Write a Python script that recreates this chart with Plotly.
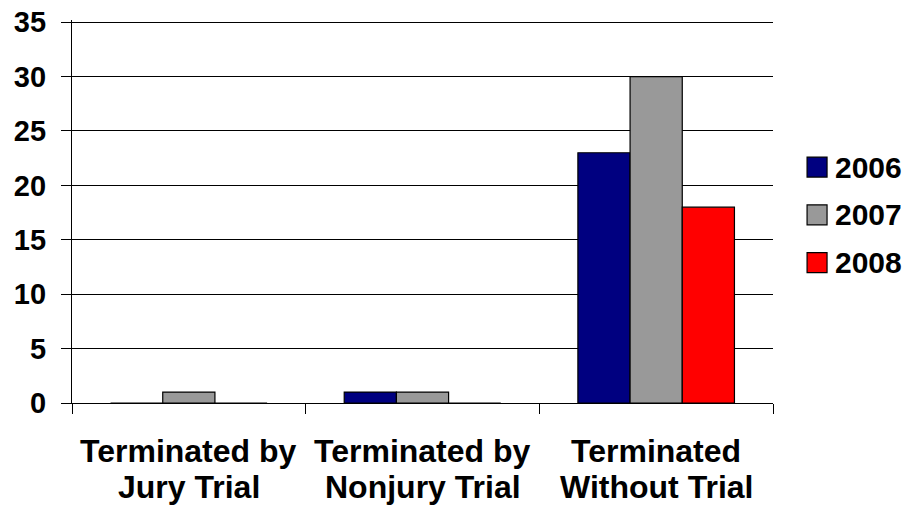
import plotly.graph_objects as go

# Chart data
categories = ["Jury", "Nonjury", "Without"]
category_lines = [
    ["Terminated by", "Jury Trial"],
    ["Terminated by", "Nonjury Trial"],
    ["Terminated", "Without Trial"],
]
years = ["2006", "2007", "2008"]
values_2006 = [0, 1, 23]
values_2007 = [1, 1, 30]
values_2008 = [0, 0, 18]
y_ticks = [0, 5, 10, 15, 20, 25, 30, 35]

series = [
    ("2006", values_2006, "#000080"),
    ("2007", values_2007, "#999999"),
    ("2008", values_2008, "#ff0000"),
]

FONT = "Liberation Sans, Arial, sans-serif"
BOLD = dict(family=FONT, color="black", weight="bold")

fig = go.Figure()
for name, vals, color in series:
    fig.add_trace(go.Bar(
        x=categories,
        y=vals,
        name=name,
        marker=dict(color=color, line=dict(color="black", width=1.2)),
        showlegend=False,
    ))

shapes = []
annotations = []

# two-line category labels, tighter line spacing than plotly's tick labels
for cat, lines in zip(categories, category_lines):
    for j, line in enumerate(lines):
        annotations.append(dict(
            x=cat, xref="x", y=0, yref="paper",
            xanchor="center", yanchor="middle", yshift=-48 - 36 * j,
            showarrow=False, text=line, font=dict(BOLD, size=32),
        ))

# legend drawn by hand so the swatches can be big squares like the original
for i, (name, vals, color) in enumerate(series):
    yc = 0.616 - i * 0.1248
    shapes.append(dict(
        type="rect", xref="paper", yref="paper",
        x0=1.0486, x1=1.0771, y0=yc - 0.026, y1=yc + 0.026,
        fillcolor=color, line=dict(color="black", width=1.2),
    ))
    annotations.append(dict(
        xref="paper", yref="paper", x=1.086, y=yc,
        xanchor="left", yanchor="middle", showarrow=False,
        text=name, font=dict(BOLD, size=30),
    ))

fig.update_layout(
    width=910,
    height=512,
    margin=dict(l=72, r=137, t=20, b=109),
    paper_bgcolor="white",
    plot_bgcolor="white",
    barmode="group",
    bargap=0.33,
    bargroupgap=0,
    font=dict(BOLD, size=29),
    shapes=shapes,
    annotations=annotations,
)

# top of range a hair above 35 so the 35 gridline is not dropped at the edge
fig.update_yaxes(
    range=[0, 35.2],
    tickvals=y_ticks,
    automargin=False,
    ticklabeloverflow="allow",
    showgrid=True,
    gridcolor="black",
    gridwidth=1.3,
    showline=True,
    linecolor="black",
    linewidth=1.3,
    ticks="outside",
    ticklen=10,
    tickcolor="black",
    tickwidth=1.3,
    ticklabelstandoff=9,
    zeroline=False,
    tickfont=dict(BOLD, size=29),
)
fig.update_xaxes(
    automargin=False,
    showline=True,
    linecolor="black",
    linewidth=1.3,
    ticks="outside",
    tickson="boundaries",
    ticklen=10,
    tickcolor="black",
    tickwidth=1.3,
    showticklabels=False,
    showgrid=False,
)

# drop the browser's default 8px body margin so the figure fills the window
fig.write_html(
    "out.html",
    config={"displayModeBar": False},
    post_script="document.body.style.margin = '0';",
)
